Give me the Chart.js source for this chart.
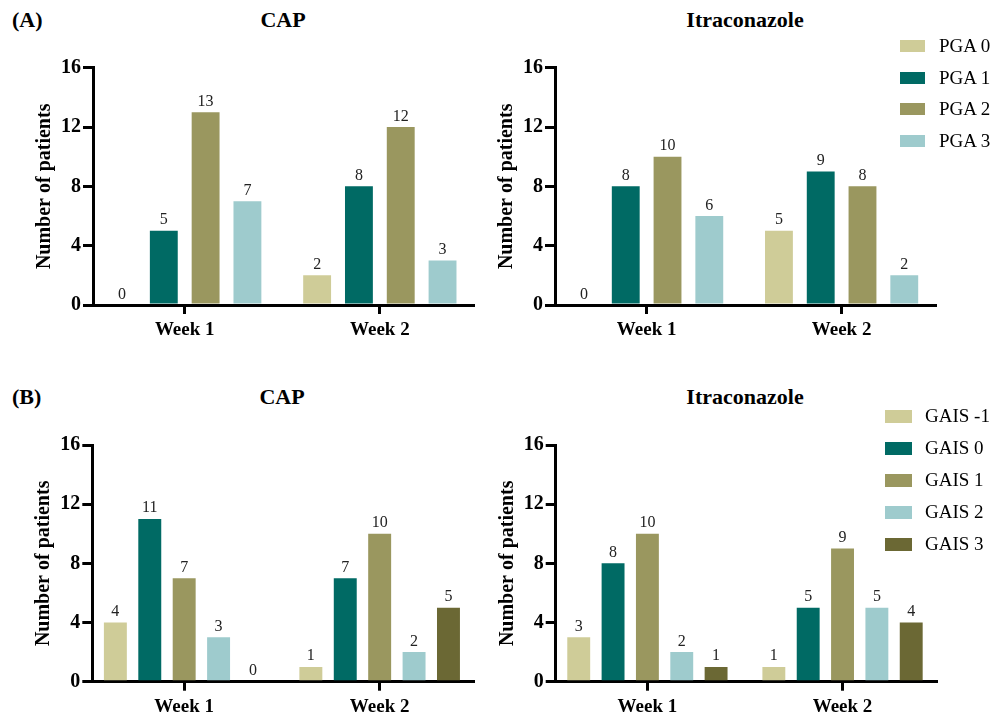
<!DOCTYPE html>
<html>
<head>
    <title>CAP vs Itraconazole - PGA and GAIS</title>
    <script src="https://cdn.jsdelivr.net/npm/chart.js"></script>
    <style>
        body { margin: 0; background: #fff; }
        #page { position: relative; width: 997px; height: 719px; overflow: hidden;
                font-family: 'Liberation Serif', 'DejaVu Serif', serif; color: #000; }
        .box { position: absolute; }
        .head { position: absolute; font-weight: bold; font-size: 22px; line-height: 22px; white-space: nowrap; }
        .center { transform: translateX(-50%); }
        .legend-row { position: absolute; font-size: 19px; line-height: 20px; white-space: nowrap; }
        .legend-row span { position: absolute; top: 0; }
    </style>
</head>
<body>
<div id="page">
    <div class="head" style="left:12px; top:9px;">(A)</div>
    <div class="head center" style="left:283px; top:9px;">CAP</div>
    <div class="head center" style="left:745px; top:9px;">Itraconazole</div>
    <div class="head" style="left:12px; top:386px;">(B)</div>
    <div class="head center" style="left:282px; top:386px;">CAP</div>
    <div class="head center" style="left:745px; top:386px;">Itraconazole</div>
</div>

<script>
    // categories
    const weeks = ['Week 1', 'Week 2'];
    const pgaLabels = ['PGA 0', 'PGA 1', 'PGA 2', 'PGA 3'];
    const gaisLabels = ['GAIS -1', 'GAIS 0', 'GAIS 1', 'GAIS 2', 'GAIS 3'];
    const yTicks = [0, 4, 8, 12, 16];

    // number of patients, one row per grade: [week 1, week 2]
    const capPga = [[0, 2], [5, 8], [13, 12], [7, 3]];
    const itraPga = [[0, 5], [8, 9], [10, 8], [6, 2]];
    const capGais = [[4, 1], [11, 7], [7, 10], [3, 2], [0, 5]];
    const itraGais = [[3, 1], [8, 5], [10, 9], [2, 5], [1, 4]];

    const colors = ['#cfcc98', '#006a64', '#9a975f', '#9ecbcd', '#6b6834'];
    const serif = "'Liberation Serif', 'DejaVu Serif', serif";

    // value above every bar (zeros too)
    const valueLabels = {
        id: 'valueLabels',
        afterDatasetsDraw(chart) {
            const ctx = chart.ctx;
            ctx.save();
            ctx.font = '16px ' + serif;
            ctx.fillStyle = '#222';
            ctx.textAlign = 'center';
            ctx.textBaseline = 'alphabetic';
            chart.data.datasets.forEach((ds, di) => {
                chart.getDatasetMeta(di).data.forEach((bar, i) => {
                    ctx.fillText(String(ds.data[i].y), bar.x, bar.y - 6.5);
                });
            });
            ctx.restore();
        }
    };

    // L/R/T/B = axis lines in page pixels
    const panels = [
        { L: 93, R: 473.3, T: 67.7, B: 305, series: capPga, labels: pgaLabels, catPct: 0.857 },
        { L: 555, R: 935, T: 67.7, B: 305, series: itraPga, labels: pgaLabels, catPct: 0.857 },
        { L: 92.3, R: 473.3, T: 445, B: 681.7, series: capGais, labels: gaisLabels, catPct: 0.88 },
        { L: 555.7, R: 936, T: 445, B: 681.7, series: itraGais, labels: gaisLabels, catPct: 0.88 }
    ];

    const page = document.getElementById('page');
    const yWidth = 64, xHeight = 48;

    panels.forEach(p => {
        const cx = Math.floor(p.L - 80), cy = Math.floor(p.T - 30);
        const cw = Math.ceil(p.R + 20) - cx, ch = Math.ceil(p.B + xHeight + 4) - cy;
        const box = document.createElement('div');
        box.className = 'box';
        box.style.cssText = `left:${cx}px; top:${cy}px; width:${cw}px; height:${ch}px;`;
        const canvas = document.createElement('canvas');
        box.appendChild(canvas);
        page.appendChild(box);

        new Chart(canvas, {
            type: 'bar',
            data: {
                datasets: p.series.map((vals, si) => ({
                    label: p.labels[si],
                    data: vals.map((v, wi) => ({ x: wi, y: v })),
                    backgroundColor: colors[si],
                    borderWidth: 0,
                    categoryPercentage: p.catPct,
                    barPercentage: 0.667
                }))
            },
            options: {
                responsive: true,
                maintainAspectRatio: false,
                animation: false,
                events: [],
                layout: {
                    padding: {
                        left: (p.L - yWidth) - cx,
                        top: p.T - cy,
                        right: cx + cw - p.R,
                        bottom: ch - (p.B - cy) - xHeight
                    }
                },
                plugins: { legend: { display: false }, tooltip: { enabled: false } },
                scales: {
                    x: {
                        type: 'linear',
                        min: -0.47,
                        max: 1.479,
                        offset: false,
                        bounds: 'data',
                        afterBuildTicks: s => { s.ticks = weeks.map((w, i) => ({ value: i })); },
                        afterFit: s => { s.height = xHeight; },
                        grid: { display: true, offset: false, drawOnChartArea: false, drawTicks: true,
                                tickLength: 9, lineWidth: 3, color: '#000' },
                        border: { display: true, width: 3, color: '#000' },
                        ticks: {
                            color: '#000', padding: 5,
                            font: { family: serif, size: 19, weight: 'bold' },
                            callback: (v, i) => weeks[i]
                        }
                    },
                    y: {
                        min: 0,
                        max: 16,
                        afterBuildTicks: s => { s.ticks = yTicks.map(v => ({ value: v })); },
                        afterFit: s => { s.width = yWidth; },
                        grid: { display: true, drawOnChartArea: false, drawTicks: true,
                                tickLength: 10, lineWidth: 3, color: '#000' },
                        border: { display: true, width: 3, color: '#000' },
                        ticks: {
                            color: '#000', padding: 2,
                            font: { family: serif, size: 20, weight: 'bold' }
                        },
                        title: {
                            display: true,
                            text: 'Number of patients',
                            color: '#000',
                            padding: { top: 4, bottom: 4 },
                            font: { family: serif, size: 20, weight: 'bold', lineHeight: 1.2 }
                        }
                    }
                }
            },
            plugins: [valueLabels]
        });
    });

    // legends
    function addLegend(labels, swLeft, swW, swH, textLeft, rowTops) {
        labels.forEach((lab, i) => {
            const row = document.createElement('div');
            row.className = 'legend-row';
            row.style.left = '0px';
            row.style.top = (rowTops[i] - 10) + 'px';
            const sw = document.createElement('div');
            sw.style.cssText = `position:absolute; left:${swLeft}px; top:${10 - swH / 2}px; width:${swW}px; height:${swH}px; background:${colors[i]};`;
            const tx = document.createElement('span');
            tx.style.left = textLeft + 'px';
            tx.textContent = lab;
            row.appendChild(sw);
            row.appendChild(tx);
            page.appendChild(row);
        });
    }
    addLegend(pgaLabels, 900, 25, 12, 939, [45.7, 77.5, 109.3, 141]);
    addLegend(gaisLabels, 885, 27, 13, 925, [416, 448, 480, 512, 544]);
</script>

</body>
</html>
